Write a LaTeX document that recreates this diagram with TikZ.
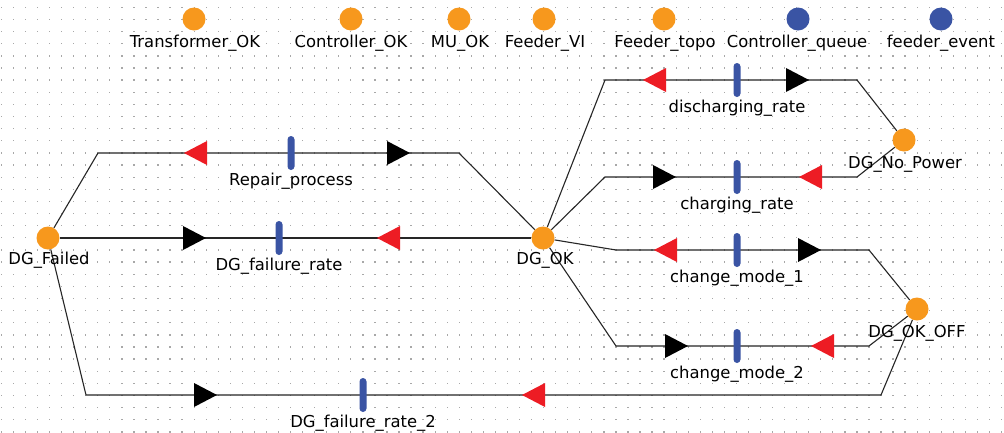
\documentclass[tikz,border=0pt]{standalone}
\usepackage{fontspec}
\setmainfont{DejaVu Sans}
\definecolor{plorange}{HTML}{F7981D}
\definecolor{plblue}{HTML}{3A54A4}
\definecolor{arrred}{HTML}{ED1C24}
\definecolor{dotc}{HTML}{A8A8A8}
\pgfdeclarelayer{background}
\pgfsetlayers{background,main}
\begin{document}
\begin{tikzpicture}[x=1pt,y=-1pt,
  place/.style={circle, fill=plorange, minimum size=23pt, inner sep=0pt},
  bplace/.style={place, fill=plblue},
  trans/.style={rectangle, rounded corners=3.5pt, fill=plblue, minimum width=7pt, minimum height=34pt, inner sep=0pt},
  lbl/.style={anchor=base, font=\fontsize{16.4}{19}\selectfont, inner sep=0pt},
  arc/.style={draw=black!85, line width=1.1pt},
  redR/.pic={\fill[arrred] (0,0) -- (-23,-12) -- (-23,12) -- cycle;},
  redL/.pic={\fill[arrred] (0,0) -- (23,-12) -- (23,12) -- cycle;},
  blkR/.pic={\fill[black] (0,0) -- (-23,-12) -- (-23,12) -- cycle;},
  blkL/.pic={\fill[black] (0,0) -- (23,-12) -- (23,12) -- cycle;}
]
\useasboundingbox (0,0) rectangle (1004,432);
\begin{pgfonlayer}{background}
\fill[white] (0,0) rectangle (1004,432);
\foreach \i in {0,...,83} {
  \foreach \j in {0,...,35} {
    \fill[dotc] ({1.3+12.05*\i-0.6},{7.3+12.13*\j-0.6}) rectangle +(1.3,1.3);
  }
}
\end{pgfonlayer}

% top row places
\node[place] (TOK) at (194,19) {};
\node[place] (COK) at (351,19) {};
\node[place] (MUOK) at (459,19) {};
\node[place] (FVI) at (544,19) {};
\node[place] (FTOPO) at (664,19) {};
\node[bplace] (CQ) at (798,19) {};
\node[bplace] (FEV) at (941,19) {};
\node[lbl] (lTOK) at (195,47) {Transformer\_OK};
\node[lbl] (lCOK) at (351,47) {Controller\_OK};
\node[lbl] (lMUOK) at (460,47) {MU\_OK};
\node[lbl] (lFVI) at (545,47) {Feeder\_VI};
\node[lbl] (lFTOPO) at (665,47) {Feeder\_topo};
\node[lbl] (lCQ) at (797,47) {Controller\_queue};
\node[lbl] (lFEV) at (941,47) {feeder\_event};

% main places
\node[place] (DGF) at (48,238) {};
\node[place] (DGOK) at (543,238) {};
\node[place] (DGNP) at (904,140) {};
\node[place] (DGOFF) at (917,309) {};

% transitions
\node[trans] (Trep) at (291,153) {};
\node[trans] (Tfail) at (279,238) {};
\node[trans] (Tfail2) at (363,395) {};
\node[trans] (Tdis) at (737,80) {};
\node[trans] (Tchg) at (737,177) {};
\node[trans] (Tcm1) at (737,250) {};
\node[trans] (Tcm2) at (737,346) {};

% bends
\coordinate (b1) at (98,153);   \coordinate (b2) at (459,153);
\coordinate (b3) at (86,395);   \coordinate (b4) at (881,395);
\coordinate (b5) at (605,80);   \coordinate (b6) at (857,80);
\coordinate (b7) at (605,177);  \coordinate (b8) at (857,177);
\coordinate (b9) at (616,250);  \coordinate (b10) at (869,250);
\coordinate (b11) at (616,346); \coordinate (b12) at (869,346);

\begin{pgfonlayer}{background}
\draw[arc] (DGF) -- (b1) -- (Trep.center);
\draw[arc] (Trep.center) -- (b2) -- (DGOK);
\draw[arc] (DGF) -- (Tfail.center);
\draw[arc] (Tfail.center) -- (DGOK);
\draw[arc] (DGF) -- (b3) -- (Tfail2.center);
\draw[arc] (Tfail2.center) -- (b4) -- (DGOFF);
\draw[arc] (DGOK) -- (b5) -- (Tdis.center);
\draw[arc] (Tdis.center) -- (b6) -- (DGNP);
\draw[arc] (DGOK) -- (b7) -- (Tchg.center);
\draw[arc] (Tchg.center) -- (b8) -- (DGNP);
\draw[arc] (DGOK) -- (b9) -- (Tcm1.center);
\draw[arc] (Tcm1.center) -- (b10) -- (DGOFF);
\draw[arc] (DGOK) -- (b11) -- (Tcm2.center);
\draw[arc] (Tcm2.center) -- (b12) -- (DGOFF);
\end{pgfonlayer}

% arrowheads
\pic at (184,153) {redL};  \pic at (410,153) {blkR};
\pic at (206,238) {blkR};  \pic at (377,238) {redL};
\pic at (217,395) {blkR};  \pic at (522,395) {redL};
\pic at (643,80) {redL};   \pic at (809,80) {blkR};
\pic at (676,177) {blkR};  \pic at (799,177) {redL};
\pic at (654,250) {redL};  \pic at (821,250) {blkR};
\pic at (688,346) {blkR};  \pic at (811,346) {redL};

% place labels
\node[lbl] (lDGF) at (49,264) {DG\_Failed};
\node[lbl] (lDGOK) at (545,264) {DG\_OK};
\node[lbl] (lDGNP) at (905,168) {DG\_No\_Power};
\node[lbl] (lDGOFF) at (917,337) {DG\_OK\_OFF};

% transition labels
\node[lbl] (lrep) at (291,185) {Repair\_process};
\node[lbl] (lfail) at (279,270) {DG\_failure\_rate};
\node[lbl] (lfail2) at (363,427) {DG\_failure\_rate\_2};
\node[lbl] (ldis) at (737,112) {discharging\_rate};
\node[lbl] (lchg) at (737,209) {charging\_rate};
\node[lbl] (lcm1) at (737,282) {change\_mode\_1};
\node[lbl] (lcm2) at (737,378) {change\_mode\_2};
\end{tikzpicture}
\end{document}
